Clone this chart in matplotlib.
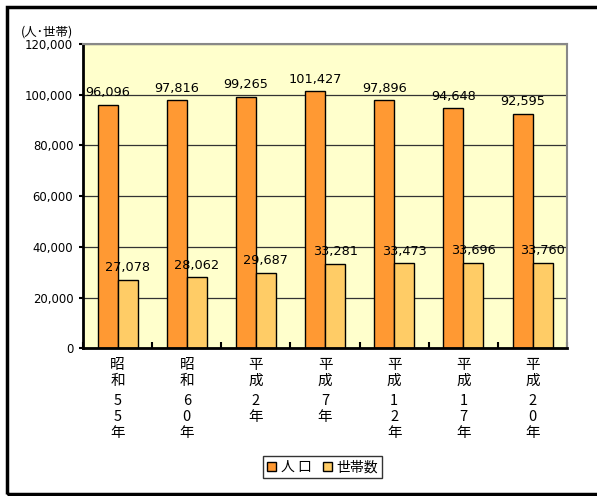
import matplotlib
matplotlib.use('Agg')
import numpy as np
import matplotlib.pyplot as plt
from matplotlib.patches import Rectangle, Patch
from matplotlib.transforms import offset_copy

plt.rcParams['font.family'] = ['DejaVu Sans', 'Noto Sans CJK JP']

#%% data
years = ['昭\n和\n5\n5\n年', '昭\n和\n6\n0\n年', '平\n成\n2\n年', '平\n成\n7\n年',
         '平\n成\n1\n2\n年', '平\n成\n1\n7\n年', '平\n成\n2\n0\n年']
population = [96096, 97816, 99265, 101427, 97896, 94648, 92595]
households = [27078, 28062, 29687, 33281, 33473, 33696, 33760]

#%% plot
fig = plt.figure(figsize=(5.97, 4.96), dpi=100)
ax = fig.add_axes([0.139, 0.298, 0.811, 0.613])
ax.set_facecolor('#FFFFCC')

x = np.arange(len(years))
w = 0.29

ax.yaxis.grid(True, color='#333333', lw=0.9)
ax.set_axisbelow(True)

b1 = ax.bar(x - w / 2, population, w, color='#FF9933', edgecolor='black', lw=1, label='人 口')
b2 = ax.bar(x + w / 2, households, w, color='#FFCC66', edgecolor='black', lw=1, label='世帯数')

for bars, vals in [(b1, population), (b2, households)]:
    for rect, v in zip(bars, vals):
        ax.annotate(f'{v:,}', (rect.get_x() + rect.get_width() / 2, v), xytext=(0, 4),
                    textcoords='offset points', ha='center', va='bottom', fontsize=9.3, zorder=5)

ax.set_xlim(-0.5, len(years) - 0.5)
ax.set_ylim(0, 120000)
ax.set_yticks(np.arange(0, 120001, 20000))
ax.set_yticklabels([f'{v:,}' for v in range(0, 120001, 20000)], fontsize=8.4)
ax.tick_params(axis='y', direction='out', length=3, width=1.5, pad=4)

# category labels written top-to-bottom, ticks at group boundaries
ax.set_xticks(np.arange(len(years) + 1) - 0.5)
ax.set_xticklabels([])
ax.tick_params(axis='x', direction='in', length=4, width=1.5)
xform = ax.get_xaxis_transform()
for i, lab in enumerate(years):
    for j, ch in enumerate(lab.split('\n')):
        dy = -(7 + j * 11.7 + (2.5 if j >= 2 else 0))
        ax.text(i, 0, ch, transform=offset_copy(xform, fig=fig, x=0, y=dy, units='points'),
                ha='center', va='top', fontsize=10.5,
                family=['Noto Sans CJK JP', 'DejaVu Sans'])

for s in ['left', 'bottom']:
    ax.spines[s].set_linewidth(2)
    ax.spines[s].set_color('black')
for s in ['top', 'right']:
    ax.spines[s].set_linewidth(1.5)
    ax.spines[s].set_color('#888888')

fig.text(0.035, 0.923, '(人･世帯)', fontsize=9, ha='left', va='bottom',
         family=['Noto Sans CJK JP', 'DejaVu Sans'])

leg = fig.legend(handles=[Patch(facecolor='#FF9933', edgecolor='black', label='人 口'),
                          Patch(facecolor='#FFCC66', edgecolor='black', label='世帯数')],
                 loc='center', bbox_to_anchor=(0.54, 0.058), ncol=2, fancybox=False,
                 frameon=True, handlelength=0.7, handleheight=0.7, handletextpad=0.3,
                 columnspacing=0.8, borderpad=0.3, prop={'family': 'Noto Sans CJK JP', 'size': 10})
leg.get_frame().set_edgecolor('black')
leg.get_frame().set_linewidth(1)

# outer frame
fig.patches.append(Rectangle((0.0125, 0.004), 1.1, 0.982, transform=fig.transFigure,
                             fill=False, edgecolor='black', lw=2.5))

fig.savefig('out.png', dpi=100)
